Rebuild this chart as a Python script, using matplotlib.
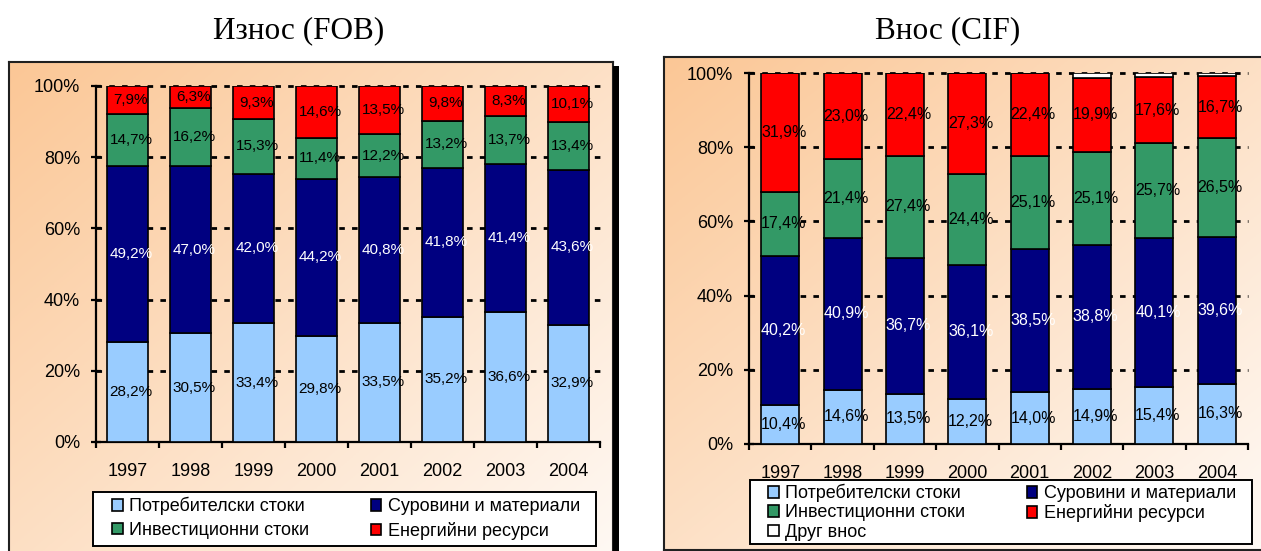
import numpy as np
import matplotlib
matplotlib.use("Agg")
from matplotlib import pyplot as plt
from matplotlib.patches import Rectangle, Patch

plt.rcParams["font.family"] = ["Liberation Sans", "DejaVu Sans"]

YEARS = ["1997", "1998", "1999", "2000", "2001", "2002", "2003", "2004"]

# Износ (FOB), % от общия износ
EXP_CONSUMER = [28.2, 30.5, 33.4, 29.8, 33.5, 35.2, 36.6, 32.9]
EXP_RAW = [49.2, 47.0, 42.0, 44.2, 40.8, 41.8, 41.4, 43.6]
EXP_INVEST = [14.7, 16.2, 15.3, 11.4, 12.2, 13.2, 13.7, 13.4]
EXP_ENERGY = [7.9, 6.3, 9.3, 14.6, 13.5, 9.8, 8.3, 10.1]

# Внос (CIF), % от общия внос
IMP_CONSUMER = [10.4, 14.6, 13.5, 12.2, 14.0, 14.9, 15.4, 16.3]
IMP_RAW = [40.2, 40.9, 36.7, 36.1, 38.5, 38.8, 40.1, 39.6]
IMP_INVEST = [17.4, 21.4, 27.4, 24.4, 25.1, 25.1, 25.7, 26.5]
IMP_ENERGY = [31.9, 23.0, 22.4, 27.3, 22.4, 19.9, 17.6, 16.7]
IMP_OTHER = [0.1, 0.1, 0.0, 0.0, 0.0, 1.3, 1.2, 0.9]

NAMES = ["Потребителски стоки", "Суровини и материали",
         "Инвестиционни стоки", "Енергийни ресурси", "Друг внос"]
COLORS = ["#99CCFF", "#000080", "#339966", "#FF0000", "#FFFFFF"]
TEXT_COLORS = ["black", "white", "black", "black", None]

W, H = 1261, 551
fig = plt.figure(figsize=(W / 100, H / 100), dpi=100)


def fx(px):
    return px / W


def fy(py):
    # pixel row measured from the top -> figure fraction
    return 1 - py / H


def panel_background(x0, y0, x1, y1):
    bg = fig.add_axes([fx(x0), fy(y1), fx(x1 - x0), fy(y0) - fy(y1)], zorder=0)
    n = 200
    gx, gy = np.meshgrid(np.linspace(0, 1, n), np.linspace(0, 1, n))
    t = np.clip((gx + gy) / 2, 0, 1)[..., None]
    c0 = np.array([251, 199, 150]) / 255
    c1 = np.array([255, 250, 246]) / 255
    img = c0 * (1 - t) + c1 * t
    bg.imshow(img, aspect="auto", extent=(0, 1, 0, 1), origin="upper")
    bg.set_xticks([])
    bg.set_yticks([])
    for s in bg.spines.values():
        s.set_linewidth(1.5)
        s.set_color("#202020")
    return bg


def stacked(ax, series, width, label_size):
    x = np.arange(len(YEARS))
    bottom = np.zeros(len(YEARS))
    for i, vals in enumerate(series):
        vals = np.array(vals)
        ax.bar(x, vals, width, bottom=bottom, color=COLORS[i],
               edgecolor="black", linewidth=1.2, zorder=3)
        if TEXT_COLORS[i] is not None:
            for xi, b, v in zip(x, bottom, vals):
                ax.annotate(f"{v:.1f}".replace(".", ",") + "%", (xi, b + v / 2),
                            xytext=(2.5, 0), textcoords="offset points",
                            ha="center", va="center", fontsize=label_size,
                            color=TEXT_COLORS[i], zorder=4)
        bottom += vals

    ax.set_xlim(-0.5, len(YEARS) - 0.5)
    ax.set_ylim(0, 100)
    ax.set_facecolor("none")
    for s in ("top", "right"):
        ax.spines[s].set_visible(False)
    for s in ("left", "bottom"):
        ax.spines[s].set_linewidth(1.6)
    ax.set_yticks(np.arange(0, 101, 20))
    ax.set_yticklabels([f"{v}%" for v in range(0, 101, 20)])
    ax.tick_params(axis="y", direction="inout", length=7, width=1.6,
                   pad=8, labelsize=13)
    ax.set_xticks(np.arange(len(YEARS) + 1) - 0.5)
    ax.set_xticklabels([])
    ax.tick_params(axis="x", which="major", direction="out", length=4.5, width=1.6)
    ax.set_xticks(np.arange(len(YEARS)), minor=True)
    ax.set_xticklabels(YEARS, minor=True)
    ax.tick_params(axis="x", which="minor", length=0, pad=15, labelsize=13)
    for v in range(20, 101, 20):
        ax.axhline(v, color="black", linewidth=2.0, linestyle=(0, (2.0, 2.6)),
                   zorder=1, clip_on=False)


def legend_box(ax, handles, labels, frame, top, span, spacing):
    x0, y0, x1, y1 = frame
    fig.add_artist(Rectangle((fx(x0), fy(y1)), fx(x1 - x0), fy(y0) - fy(y1),
                             transform=fig.transFigure, facecolor="white",
                             edgecolor="black", linewidth=1.4, zorder=1))
    leg = ax.legend(handles, labels, ncol=2, loc="upper left", mode="expand",
                    bbox_to_anchor=(fx(span[0]), fy(top), fx(span[1] - span[0]), 0.0),
                    bbox_transform=fig.transFigure, frameon=False, borderpad=0,
                    borderaxespad=0, handlelength=0.6, handleheight=0.6,
                    handletextpad=0.35, labelspacing=spacing, fontsize=13)
    return leg


def patches(order):
    return [Patch(facecolor=COLORS[i], edgecolor="black", linewidth=1.2) for i in order]


# Износ (FOB)
fig.add_artist(Rectangle((fx(613), 0), fx(6), fy(66), transform=fig.transFigure,
                         facecolor="black", edgecolor="none", zorder=0.5))
panel_background(9, 62, 613, 580)
ax1 = fig.add_axes([fx(96), fy(442), fx(600 - 96), fy(86) - fy(442)], zorder=2)
stacked(ax1, [EXP_CONSUMER, EXP_RAW, EXP_INVEST, EXP_ENERGY], 0.65, 11)
order1 = [0, 2, 1, 3]
legend_box(ax1, patches(order1), [NAMES[i] for i in order1],
           (93, 492, 596, 546), 497, (112, 580), 0.35)
fig.text(fx(299), fy(31), "Износ (FOB)", ha="center", va="center",
         fontsize=22.5, family=["Liberation Serif", "DejaVu Serif"])

# Внос (CIF)
panel_background(664, 57, 1275, 550)
ax2 = fig.add_axes([fx(749), fy(444), fx(1248 - 749), fy(73) - fy(444)], zorder=2)
stacked(ax2, [IMP_CONSUMER, IMP_RAW, IMP_INVEST, IMP_ENERGY, IMP_OTHER], 0.61, 11.5)
order2 = [0, 2, 4, 1, 3]
legend_box(ax2, patches(order2), [NAMES[i] for i in order2],
           (750, 480, 1252, 544), 484, (768, 1236), 0.12)
fig.text(fx(948), fy(31), "Внос (CIF)", ha="center", va="center",
         fontsize=22.5, family=["Liberation Serif", "DejaVu Serif"])

fig.savefig("out.png", dpi=100)
